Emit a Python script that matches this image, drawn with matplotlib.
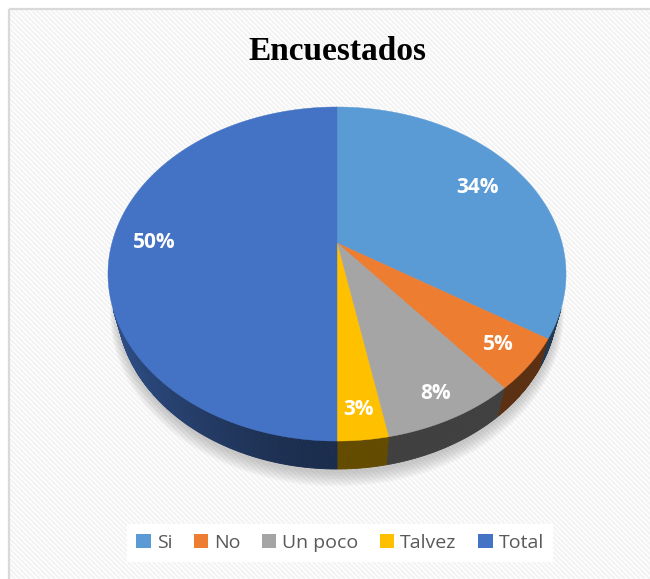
import numpy as np
import matplotlib
matplotlib.use("Agg")
import matplotlib.pyplot as plt
from matplotlib.patches import Rectangle
from matplotlib.collections import LineCollection
from matplotlib.colors import to_rgb

# ---------------- data ----------------
categories = ["Si", "No", "Un poco", "Talvez", "Total"]
values = [34, 5, 8, 3, 50]
colors = ["#5B9BD5", "#ED7D31", "#A5A5A5", "#FFC000", "#4472C4"]
title = "Encuestados"

# label placement (fraction of radius, style only)
label_dist = [0.76, 0.855, 0.88, 0.87, 0.81]

# ---------------- figure ----------------
W, H = 650, 579
fig = plt.figure(figsize=(6.5, 5.79), dpi=100)
fig.patch.set_facecolor("white")
ax = fig.add_axes([0, 0, 1, 1])
ax.set_xlim(0, W)
ax.set_ylim(H, 0)
ax.axis("off")

# chart area background with faint diagonal stripes + light border
area = Rectangle((10, 10), W - 10, H - 10, facecolor="white", lw=0, zorder=0)
ax.add_patch(area)
step = 5.0
offs = np.arange(-H, W + H, step)
segs = [[(o, 0), (o + H, H)] for o in offs]
stripes = LineCollection(segs, colors="#f3f3f3", linewidths=1.6, zorder=0.5)
ax.add_collection(stripes)
stripes.set_clip_path(area)
ax.plot([9, 9], [9, H], color="#d9d9d9", lw=1.6, zorder=1,
        solid_capstyle="butt")
ax.plot([9, W], [9, 9], color="#d9d9d9", lw=1.6, zorder=1,
        solid_capstyle="butt")

# ---------------- 3D perspective pie ----------------
F, D, C, S = 845.5, 3.757, 0.6976, 0.7166   # focal, distance, cos/sin of tilt
HT = 0.2                                     # pie thickness
CX, CY = 337, 243                            # projected pie centre


def proj(X, Z, Y=0.0):
    yc = Z * S + Y * C
    zc = D + Z * C - Y * S
    return CX + F * X / zc, CY - F * yc / zc


vals = np.array(values, dtype=float)
frac = vals / vals.sum()
bounds = 90 - 360 * np.concatenate([[0], np.cumsum(frac)])  # clockwise from top

# soft shadow under the pie
tt = np.radians(np.linspace(0, 360, 361))
for k in range(10):
    r = 1.0 + 0.004 * k
    xs, ys = proj(r * np.cos(tt), r * np.sin(tt) - 0.01, -HT - 0.012 - 0.004 * k)
    ax.fill(xs, ys, color="#7a7a7a", alpha=0.045, lw=0, zorder=2)

# outer wall (front-facing part only)
vis = -1.0 / (D * C)
for i, col in enumerate(colors):
    a0, a1 = bounds[i + 1], bounds[i]
    n = max(2, int(abs(a1 - a0) / 0.5))
    ang = np.linspace(a0, a1, n + 1)
    base = np.array(to_rgb(col))
    for j in range(n):
        ta, tb = np.radians(ang[j]), np.radians(ang[j + 1])
        tm = 0.5 * (ta + tb)
        if np.sin(tm) >= vis:
            continue
        fac = 0.39 + 0.35 * max(0.0, -np.cos(tm)) ** 1.5
        shade = np.clip(base * fac, 0, 1)
        X = np.cos([ta, tb, tb, ta])
        Z = np.sin([ta, tb, tb, ta])
        Y = np.array([0, 0, -HT, -HT])
        xs, ys = proj(X, Z, Y)
        ax.fill(xs, ys, color=shade, lw=0.6, ec=shade, zorder=3)

# top face
for i, col in enumerate(colors):
    a0, a1 = bounds[i + 1], bounds[i]
    ang = np.radians(np.linspace(a0, a1, 200))
    X = np.concatenate([[0], np.cos(ang)])
    Z = np.concatenate([[0], np.sin(ang)])
    xs, ys = proj(X, Z)
    ax.fill(xs, ys, color=col, lw=0.3, ec=col, zorder=4)

# percentage labels
for i, v in enumerate(values):
    mid = np.radians(0.5 * (bounds[i] + bounds[i + 1]))
    r = label_dist[i]
    lx, ly = proj(r * np.cos(mid), r * np.sin(mid))
    ax.text(lx, ly, f"{v / vals.sum() * 100:.0f}%", ha="center", va="center",
            color="white", fontsize=15, fontweight="bold",
            family="Open Sans", zorder=5)

# title
ax.text(337, 52, title, ha="center", va="center", fontsize=24,
        fontweight="bold", family="Liberation Serif", color="black", zorder=5)

# legend
handles = [Rectangle((0, 0), 1, 1, facecolor=c, edgecolor="none") for c in colors]
leg = ax.legend(handles, categories, loc="center",
                bbox_to_anchor=(340 / W, 1 - 543 / H), ncol=5,
                frameon=True, facecolor="white", edgecolor="none", framealpha=1,
                handlelength=0.75, handleheight=0.75,
                handletextpad=0.3, columnspacing=1.1, borderpad=0.5,
                labelcolor="#595959", prop={"family": "Open Sans", "size": 14})
leg.get_frame().set_boxstyle("square", pad=0)
leg.set_zorder(6)

fig.savefig("out.png", dpi=100, facecolor="white")
